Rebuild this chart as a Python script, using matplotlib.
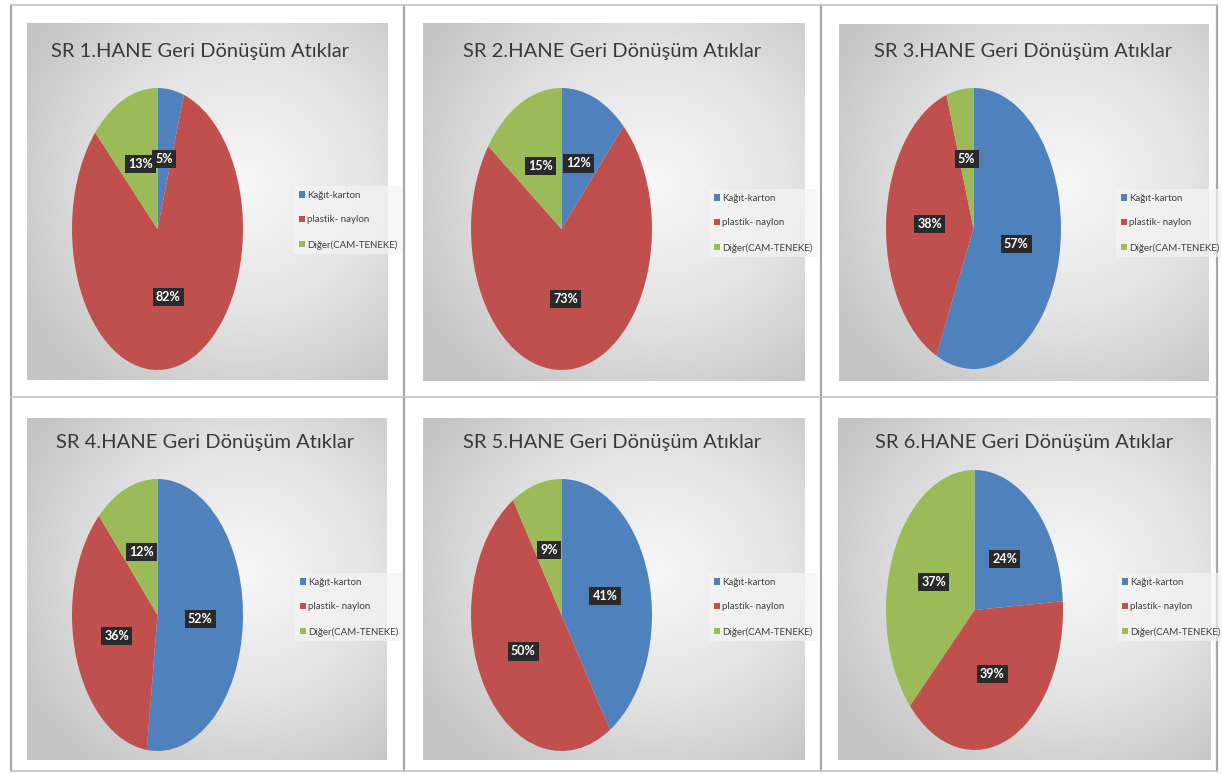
import matplotlib.pyplot as plt
import numpy as np
from matplotlib.colors import LinearSegmentedColormap

W, H = 1222, 774

# data
titles = ['SR 1.HANE Geri Dönüşüm Atıklar', 'SR 2.HANE Geri Dönüşüm Atıklar',
          'SR 3.HANE Geri Dönüşüm Atıklar', 'SR 4.HANE Geri Dönüşüm Atıklar',
          'SR 5.HANE Geri Dönüşüm Atıklar', 'SR 6.HANE Geri Dönüşüm Atıklar']
categories = ['Kağıt-karton', 'plastik- naylon', 'Diğer(CAM-TENEKE)']
kagit = [5, 12, 57, 52, 41, 24]
plastik = [82, 73, 38, 36, 50, 39]
diger = [13, 15, 5, 12, 9, 37]

colors = ['#4F81BD', '#C0504D', '#9BBB59']

# layout in pixels (x0, y0, x1, y1), y measured from top
inner_boxes = [(27, 23, 388, 380), (423, 23, 805, 381), (839, 24, 1209, 381),
               (27, 418, 387, 760), (423, 418, 805, 760), (838, 418, 1211, 760)]
pie_boxes = [(72, 88, 243, 370), (471, 88, 652, 370), (886, 88, 1061, 369),
             (72, 479, 243, 751), (471, 479, 652, 751), (886, 470, 1063, 750)]
title_pos = [(200, 51), (612, 51), (1023, 51), (205, 442), (612, 442), (1024, 442)]
legend_pos = [(294, 186), (709, 189), (1116, 189), (295, 573), (709, 573), (1117, 573)]

plt.rcParams['font.family'] = ['Lato', 'DejaVu Sans']

fig = plt.figure(figsize=(W / 100, H / 100), dpi=100)
fig.patch.set_facecolor('white')


def px_axes(box, **kw):
    x0, y0, x1, y1 = box
    return fig.add_axes([x0 / W, 1 - y1 / H, (x1 - x0) / W, (y1 - y0) / H], **kw)


# frame lines around the six screenshots
frame = fig.add_axes([0, 0, 1, 1])
frame.set_xlim(0, W)
frame.set_ylim(H, 0)
frame.axis('off')
for x in [11, 404, 821, 1217]:
    frame.plot([x, x], [5, 771], color='#a6a6a6', lw=1.6)
for y in [5, 397, 771]:
    frame.plot([11, 1217], [y, y], color='#c4c4c4', lw=1.2)

bg_cmap = LinearSegmentedColormap.from_list('bg', ['#f7f7f7', '#e4e4e4', '#c4c4c4'])
yy, xx = np.mgrid[0:1:200j, 0:1:200j]
rad = np.sqrt(((xx - 0.6) / 0.75) ** 2 + ((yy - 0.55) / 0.75) ** 2)

for i in range(6):
    bg = px_axes(inner_boxes[i])
    bg.imshow(rad, cmap=bg_cmap, aspect='auto', extent=(0, 1, 0, 1), origin='lower', vmin=0, vmax=0.95)
    bg.axis('off')

    ax = px_axes(pie_boxes[i])
    vals = [kagit[i], plastik[i], diger[i]]
    wedges, texts, autotexts = ax.pie(vals, colors=colors, startangle=90, counterclock=False,
                                      autopct='%d%%', pctdistance=0.5, radius=1,
                                      wedgeprops=dict(linewidth=0),
                                      textprops=dict(color='white', fontsize=9, fontweight='bold'))
    for t in autotexts:
        t.set_bbox(dict(boxstyle='square,pad=0.25', fc='#2a2a2a', ec='none'))
    ax.set_aspect('auto')
    ax.set_xlim(-1, 1)
    ax.set_ylim(-1, 1)
    ax.axis('off')

    tx, ty = title_pos[i]
    fig.text(tx / W, 1 - ty / H, titles[i], ha='center', va='center',
             fontsize=14.5, color='#3a3a3a')

    lx, ly = legend_pos[i]
    leg = fig.legend(wedges, categories, loc='upper left',
                     bbox_to_anchor=(lx / W, 1 - ly / H), frameon=True,
                     fontsize=7, handlelength=0.6, handleheight=0.6, handletextpad=0.25,
                     labelspacing=1.6, borderpad=0.5, borderaxespad=0, fancybox=False)
    leg.get_frame().set_facecolor('#f4f4f4')
    leg.get_frame().set_alpha(0.7)
    leg.get_frame().set_edgecolor('none')
    for t in leg.get_texts():
        t.set_color('#404040')

fig.savefig('out.png', dpi=100, facecolor='white')
